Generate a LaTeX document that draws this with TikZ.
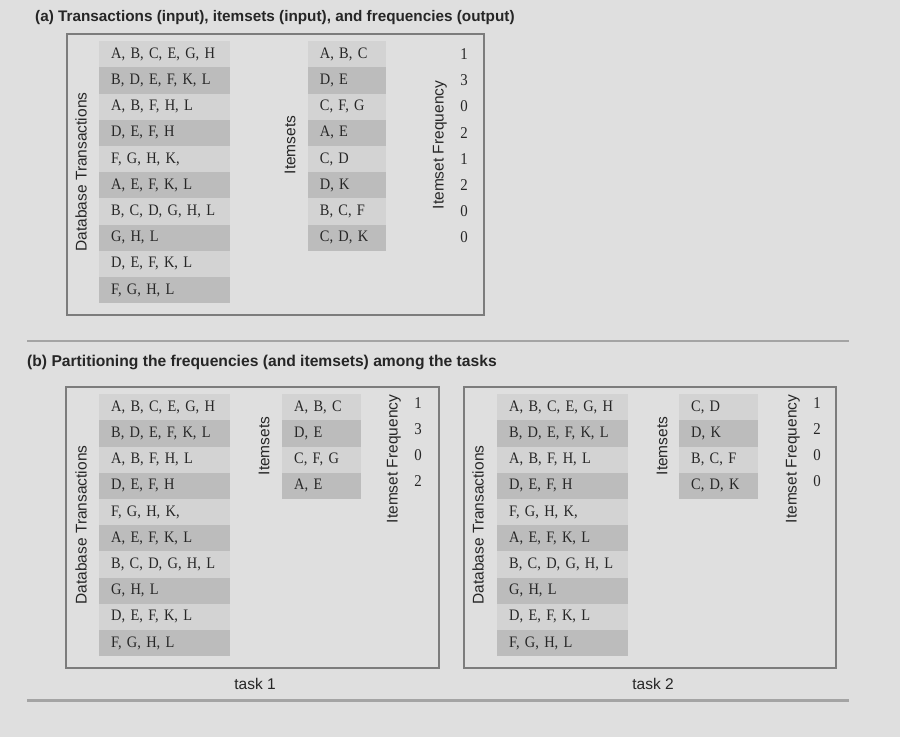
\documentclass[tikz,border=0pt]{standalone}
\usepackage{fontspec}
\setmainfont{Liberation Serif}[FakeStretch=0.9]
\setsansfont{Liberation Sans}
\usepackage{tikz}

\definecolor{bggray}{HTML}{DFDFDF}
\definecolor{rowlight}{HTML}{D3D3D3}
\definecolor{rowdark}{HTML}{BCBCBC}
\definecolor{framegray}{HTML}{7C7C7C}
\definecolor{rulegray}{HTML}{A4A4A4}
\definecolor{inkgray}{HTML}{262626}

\tikzset{
  item/.style={anchor=north west, inner xsep=12pt, inner ysep=0pt, minimum height=26.2pt,
    align=left, text=inkgray, font=\fontsize{16}{18}\selectfont},
  trans/.style={item, text width=107pt},
  iset/.style={item, text width=54.3pt},
  lt/.style={fill=rowlight},
  dk/.style={fill=rowdark},
  freq/.style={text=inkgray, font=\fontsize{16.5}{18}\selectfont},
  side/.style={rotate=90, text=inkgray, font=\sffamily\fontsize{15.5}{18}\selectfont},
  heading/.style={anchor=base west, inner sep=0pt, text=inkgray, font=\sffamily\bfseries\fontsize{15.3}{18}\selectfont},
  tasklabel/.style={text=inkgray, font=\sffamily\fontsize{15.5}{18}\selectfont},
  frame/.style={draw=framegray, line width=1.6pt},
  rule/.style={draw=rulegray, line width=2.6pt}
}

\begin{document}
\begin{tikzpicture}[x=1pt,y=-1pt]
   \fill[bggray] (0,0) rectangle (900,737);

   % (a) the whole problem
   \node[heading] (titlea) at (35,21.5) {(a) Transactions (input), itemsets (input), and frequencies (output)};
   \draw[frame] (67,34) rectangle (484,315);

   \node[side] (dba) at (81,172) {Database Transactions};
   \node[trans,lt] (ta1) at (99,41) {A, B, C, E, G, H};
   \node[trans,dk] (ta2) at (99,67.2) {B, D, E, F, K, L};
   \node[trans,lt] (ta3) at (99,93.4) {A, B, F, H, L};
   \node[trans,dk] (ta4) at (99,119.6) {D, E, F, H};
   \node[trans,lt] (ta5) at (99,145.8) {F, G, H, K,};
   \node[trans,dk] (ta6) at (99,172) {A, E, F, K, L};
   \node[trans,lt] (ta7) at (99,198.2) {B, C, D, G, H, L};
   \node[trans,dk] (ta8) at (99,224.4) {G, H, L};
   \node[trans,lt] (ta9) at (99,250.6) {D, E, F, K, L};
   \node[trans,dk] (ta10) at (99,276.8) {F, G, H, L};

   \node[side] (isa) at (290,145) {Itemsets};
   \node[iset,lt] (ia1) at (307.7,41) {A, B, C};
   \node[iset,dk] (ia2) at (307.7,67.2) {D, E};
   \node[iset,lt] (ia3) at (307.7,93.4) {C, F, G};
   \node[iset,dk] (ia4) at (307.7,119.6) {A, E};
   \node[iset,lt] (ia5) at (307.7,145.8) {C, D};
   \node[iset,dk] (ia6) at (307.7,172) {D, K};
   \node[iset,lt] (ia7) at (307.7,198.2) {B, C, F};
   \node[iset,dk] (ia8) at (307.7,224.4) {C, D, K};

   \node[side] (fqa) at (440,145) {Itemset Frequency};
   \node[freq] (fa1) at (464,54.1) {1};
   \node[freq] (fa2) at (464,80.3) {3};
   \node[freq] (fa3) at (464,106.5) {0};
   \node[freq] (fa4) at (464,132.7) {2};
   \node[freq] (fa5) at (464,158.9) {1};
   \node[freq] (fa6) at (464,185.1) {2};
   \node[freq] (fa7) at (464,211.3) {0};
   \node[freq] (fa8) at (464,237.5) {0};

   \draw[rule] (27,341) -- (849,341);

   % (b) split over two tasks
   \node[heading,font=\sffamily\bfseries\fontsize{15.65}{18}\selectfont] (titleb) at (27,366) {(b) Partitioning the frequencies (and itemsets) among the tasks};

   % task 1
   \draw[frame] (66,387) rectangle (439,668);
   \node[side] (dbb) at (81,525) {Database Transactions};
   \node[trans,lt] (tb1) at (99,394) {A, B, C, E, G, H};
   \node[trans,dk] (tb2) at (99,420.2) {B, D, E, F, K, L};
   \node[trans,lt] (tb3) at (99,446.4) {A, B, F, H, L};
   \node[trans,dk] (tb4) at (99,472.6) {D, E, F, H};
   \node[trans,lt] (tb5) at (99,498.8) {F, G, H, K,};
   \node[trans,dk] (tb6) at (99,525) {A, E, F, K, L};
   \node[trans,lt] (tb7) at (99,551.2) {B, C, D, G, H, L};
   \node[trans,dk] (tb8) at (99,577.4) {G, H, L};
   \node[trans,lt] (tb9) at (99,603.6) {D, E, F, K, L};
   \node[trans,dk] (tb10) at (99,629.8) {F, G, H, L};

   \node[side] (isb) at (264,446) {Itemsets};
   \node[iset,lt] (ib1) at (282,394) {A, B, C};
   \node[iset,dk] (ib2) at (282,420.2) {D, E};
   \node[iset,lt] (ib3) at (282,446.4) {C, F, G};
   \node[iset,dk] (ib4) at (282,472.6) {A, E};

   \node[side] (fqb) at (394,459) {Itemset Frequency};
   \node[freq] (fb1) at (418,403) {1};
   \node[freq] (fb2) at (418,429) {3};
   \node[freq] (fb3) at (418,455) {0};
   \node[freq] (fb4) at (418,481) {2};
   \node[tasklabel] (task1) at (255,684) {task 1};

   % task 2
   \draw[frame] (464,387) rectangle (836,668);
   \node[side] (dbc) at (478,525) {Database Transactions};
   \node[trans,lt] (tc1) at (497,394) {A, B, C, E, G, H};
   \node[trans,dk] (tc2) at (497,420.2) {B, D, E, F, K, L};
   \node[trans,lt] (tc3) at (497,446.4) {A, B, F, H, L};
   \node[trans,dk] (tc4) at (497,472.6) {D, E, F, H};
   \node[trans,lt] (tc5) at (497,498.8) {F, G, H, K,};
   \node[trans,dk] (tc6) at (497,525) {A, E, F, K, L};
   \node[trans,lt] (tc7) at (497,551.2) {B, C, D, G, H, L};
   \node[trans,dk] (tc8) at (497,577.4) {G, H, L};
   \node[trans,lt] (tc9) at (497,603.6) {D, E, F, K, L};
   \node[trans,dk] (tc10) at (497,629.8) {F, G, H, L};

   \node[side] (isc) at (662,446) {Itemsets};
   \node[iset,lt] (ic1) at (679,394) {C, D};
   \node[iset,dk] (ic2) at (679,420.2) {D, K};
   \node[iset,lt] (ic3) at (679,446.4) {B, C, F};
   \node[iset,dk] (ic4) at (679,472.6) {C, D, K};

   \node[side] (fqc) at (793,459) {Itemset Frequency};
   \node[freq] (fc1) at (817,403) {1};
   \node[freq] (fc2) at (817,429) {2};
   \node[freq] (fc3) at (817,455) {0};
   \node[freq] (fc4) at (817,481) {0};
   \node[tasklabel] (task2) at (653,684) {task 2};

   \draw[rule] (27,700.5) -- (849,700.5);
\end{tikzpicture}
\end{document}
